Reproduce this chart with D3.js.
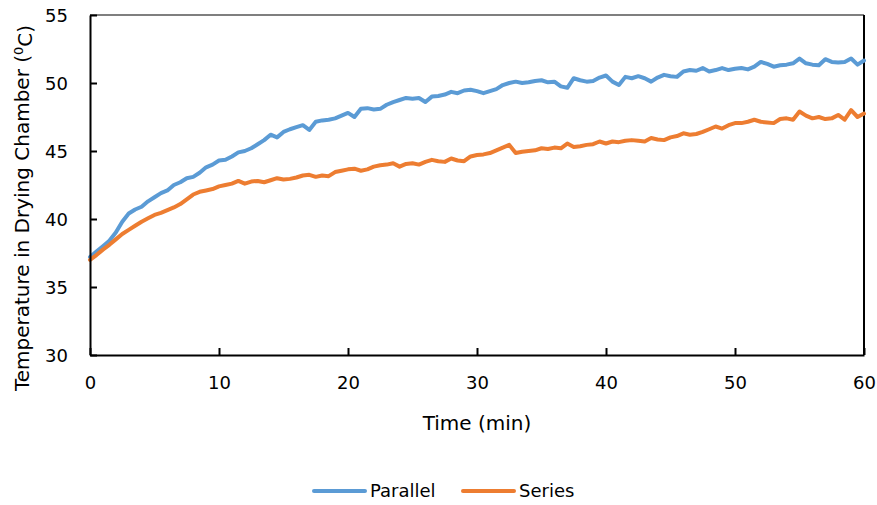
<!DOCTYPE html>
<html>
<head>
<meta charset="utf-8">
<script src="https://cdn.jsdelivr.net/npm/d3@7"></script>
<style>
  body { margin: 0; background: #fff; }
  svg text { font-family: "DejaVu Sans", sans-serif; fill: #000; }
</style>
</head>
<body>
<div id="chart"></div>
<script>
// readings every half minute, 0 .. 60 min
const timeStep = 0.5;

const parallel = [
  37.2, 37.6, 38.0, 38.4, 39.0, 39.8, 40.4, 40.7, 40.9, 41.3,
  41.6, 41.9, 42.1, 42.5, 42.7, 43.0, 43.1, 43.4, 43.8, 44.0,
  44.3, 44.35, 44.6, 44.9, 45.0, 45.2, 45.5, 45.8, 46.2, 46.0,
  46.4, 46.6, 46.75, 46.9, 46.55, 47.15, 47.25, 47.3, 47.4, 47.6,
  47.8, 47.5, 48.1, 48.15, 48.05, 48.1, 48.4, 48.6, 48.75, 48.9,
  48.85, 48.9, 48.6, 49.0, 49.05, 49.15, 49.35, 49.25, 49.45, 49.5,
  49.4, 49.25, 49.4, 49.55, 49.85, 50.0, 50.1, 50.0, 50.05, 50.15,
  50.2, 50.05, 50.1, 49.75, 49.65, 50.35, 50.2, 50.1, 50.15, 50.4,
  50.55, 50.1, 49.85, 50.45, 50.35, 50.5, 50.35, 50.1, 50.4, 50.6,
  50.5, 50.45, 50.85, 50.95, 50.9, 51.1, 50.85, 50.95, 51.1, 50.95,
  51.05, 51.1, 51.0, 51.2, 51.55, 51.4, 51.2, 51.3, 51.35, 51.45,
  51.8, 51.45, 51.35, 51.3, 51.75, 51.55, 51.5, 51.55, 51.8, 51.35,
  51.65
];

const series = [
  37.0, 37.35, 37.75, 38.1, 38.5, 38.9, 39.2, 39.5, 39.8, 40.05,
  40.3, 40.45, 40.65, 40.85, 41.1, 41.45, 41.8, 42.0, 42.1, 42.2,
  42.4, 42.5, 42.6, 42.8, 42.6, 42.75, 42.8, 42.7, 42.85, 43.0,
  42.9, 42.95, 43.05, 43.2, 43.25, 43.1, 43.2, 43.15, 43.45, 43.55,
  43.65, 43.7, 43.55, 43.65, 43.85, 43.95, 44.0, 44.1, 43.85, 44.05,
  44.1, 44.0, 44.2, 44.35, 44.25, 44.2, 44.45, 44.3, 44.25, 44.6,
  44.7, 44.75, 44.85, 45.05, 45.25, 45.45, 44.85, 44.95, 45.0, 45.05,
  45.2, 45.15, 45.25, 45.2, 45.55, 45.3, 45.35, 45.45, 45.5, 45.7,
  45.55, 45.7, 45.65, 45.75, 45.8, 45.75, 45.7, 45.95, 45.85, 45.8,
  46.0, 46.1, 46.3, 46.2, 46.25, 46.4, 46.6, 46.8, 46.65, 46.9,
  47.05, 47.05, 47.15, 47.3, 47.15, 47.1, 47.05, 47.35, 47.4, 47.3,
  47.9, 47.6, 47.4, 47.5, 47.35, 47.4, 47.65, 47.3, 48.0, 47.5,
  47.75
];

const seriesNames = ["Parallel", "Series"];
const colors = ["#5B9BD5", "#ED7D31"];
const xTicks = [0, 10, 20, 30, 40, 50, 60];
const yTicks = [30, 35, 40, 45, 50, 55];

const width = 877;
const height = 505;
const margin = { top: 15, right: 13, bottom: 150, left: 90 };

const svg = d3.select("#chart")
  .append("svg")
  .attr("width", width)
  .attr("height", height);

const x = d3.scaleLinear().domain([0, 60]).range([margin.left, width - margin.right]);
const y = d3.scaleLinear().domain([30, 55]).range([height - margin.bottom, margin.top]);

// plot frame (top and right)
svg.append("line")
  .attr("x1", x(0)).attr("x2", x(60))
  .attr("y1", y(55)).attr("y2", y(55))
  .attr("stroke", "#000").attr("stroke-width", 1.2);
svg.append("line")
  .attr("x1", x(60)).attr("x2", x(60))
  .attr("y1", y(55)).attr("y2", y(30))
  .attr("stroke", "#000").attr("stroke-width", 2);

// series lines
const line = d3.line()
  .x((d, i) => x(i * timeStep))
  .y(d => y(d));

[parallel, series].forEach((vals, k) => {
  svg.append("path")
    .datum(vals)
    .attr("fill", "none")
    .attr("stroke", colors[k])
    .attr("stroke-width", 4)
    .attr("stroke-linejoin", "round")
    .attr("stroke-linecap", "round")
    .attr("d", line);
});

// axes with inside ticks
const xAxis = svg.append("g")
  .attr("transform", `translate(0,${y(30)})`)
  .call(d3.axisBottom(x).tickValues(xTicks).tickSizeInner(-7).tickSizeOuter(0));

const yAxis = svg.append("g")
  .attr("transform", `translate(${x(0)},0)`)
  .call(d3.axisLeft(y).tickValues(yTicks).tickSizeInner(-7).tickSizeOuter(0).tickPadding(22));

[xAxis, yAxis].forEach(g => {
  g.select(".domain").attr("stroke", "#000").attr("stroke-width", 2);
  g.selectAll(".tick line").attr("stroke", "#000").attr("stroke-width", 2);
  g.selectAll(".tick text").style("font-size", "18px").attr("fill", "#000");
});
xAxis.selectAll(".tick text").attr("dy", "0.35em").attr("y", 28);
yAxis.selectAll(".tick text").attr("dy", "0.36em");

// axis titles
svg.append("text")
  .attr("x", (x(0) + x(60)) / 2)
  .attr("y", 430)
  .attr("text-anchor", "middle")
  .style("font-size", "20px")
  .text("Time (min)");

const yTitle = svg.append("text")
  .attr("transform", "translate(29,208) rotate(-90)")
  .attr("text-anchor", "middle")
  .style("font-size", "20px");
yTitle.append("tspan").text("Temperature in Drying Chamber (");
yTitle.append("tspan").attr("dy", "-0.45em").style("font-size", "13px").text("0");
yTitle.append("tspan").attr("dy", "0.45em").text("C)");

// legend
const legendX = [314, 463];
seriesNames.forEach((name, k) => {
  const g = svg.append("g").attr("transform", `translate(${legendX[k]},491)`);
  g.append("line")
    .attr("x1", 0).attr("x2", 51)
    .attr("stroke", colors[k]).attr("stroke-width", 4)
    .attr("stroke-linecap", "round");
  g.append("text")
    .attr("x", 56).attr("dy", "0.36em")
    .style("font-size", "18px")
    .text(name);
});
</script>
</body>
</html>
